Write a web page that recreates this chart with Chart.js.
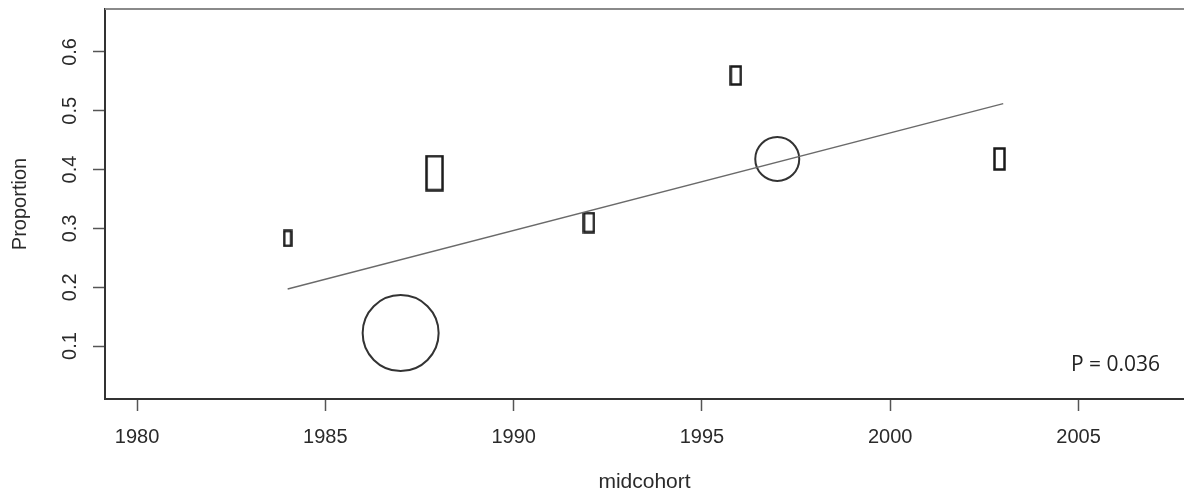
<!DOCTYPE html>
<html>
<head>
<meta charset="utf-8">
<script src="https://cdn.jsdelivr.net/npm/chart.js@4"></script>
<style>
  html, body { margin: 0; padding: 0; background: #fff; }
  #wrap { width: 1184px; height: 495px; }
</style>
</head>
<body>
<div id="wrap"><canvas id="plot"></canvas></div>
<script>
// values
var xTicks = [1980, 1985, 1990, 1995, 2000, 2005];
var yTicks = [0.1, 0.2, 0.3, 0.4, 0.5, 0.6];

var circleX = [1987, 1997];
var circleY = [0.122, 0.418];

var rectX = [1984, 1987.9, 1992, 1995.9, 2002.9];
var rectY = [0.283, 0.394, 0.31, 0.56, 0.418];

var fitX = [1984, 2003];
var fitY = [0.197, 0.512];

var pLabel = "P = 0.036";

// marker styling
var circleRadius = [38, 22];
var rectSize = [[7, 15], [16, 34], [10, 19], [10, 18], [10, 21]];

function boxMarker(w, h) {
  var c = document.createElement("canvas");
  c.width = w + 3;
  c.height = h + 3;
  var g = c.getContext("2d");
  g.strokeStyle = "#1a1a1a";
  g.lineWidth = 2.5;
  g.strokeRect(1.5, 1.5, w, h);
  return c;
}

var textColor = "#2a2a2a";
var axisFont = { family: "'Liberation Sans', Arial, sans-serif", size: 20 };

var framePlugin = {
  id: "frame",
  afterDraw: function (chart) {
    var ctx = chart.ctx;
    var area = chart.chartArea;
    var ys = chart.scales.y;
    ctx.save();
    // top edge of the box
    ctx.strokeStyle = "#8a8a8a";
    ctx.lineWidth = 2;
    ctx.beginPath();
    ctx.moveTo(area.left, area.top);
    ctx.lineTo(area.right, area.top);
    ctx.stroke();
    // rotated y tick labels, R style
    ctx.fillStyle = textColor;
    ctx.font = "20px 'Liberation Sans', Arial, sans-serif";
    ctx.textAlign = "center";
    ctx.textBaseline = "middle";
    yTicks.forEach(function (v) {
      ctx.save();
      ctx.translate(70, ys.getPixelForValue(v));
      ctx.rotate(-Math.PI / 2);
      ctx.fillText(v.toFixed(1), 0, 0);
      ctx.restore();
    });
    // p-value note
    ctx.font = "21px 'Open Sans', sans-serif";
    ctx.textAlign = "left";
    ctx.textBaseline = "alphabetic";
    ctx.fillStyle = "#222";
    ctx.fillText(pLabel, 1071, 371);
    ctx.restore();
  }
};

new Chart(document.getElementById("plot"), {
  type: "scatter",
  data: {
    datasets: [
      {
        type: "line",
        data: fitX.map(function (x, i) { return { x: x, y: fitY[i] }; }),
        borderColor: "#6a6a6a",
        borderWidth: 1.3,
        pointRadius: 0,
        fill: false
      },
      {
        data: circleX.map(function (x, i) { return { x: x, y: circleY[i] }; }),
        pointStyle: "circle",
        pointRadius: circleRadius,
        borderColor: "#333",
        borderWidth: 2,
        backgroundColor: "rgba(0,0,0,0)"
      },
      {
        data: rectX.map(function (x, i) { return { x: x, y: rectY[i] }; }),
        pointStyle: rectSize.map(function (s) { return boxMarker(s[0], s[1]); })
      }
    ]
  },
  options: {
    responsive: true,
    maintainAspectRatio: false,
    animation: false,
    events: [],
    layout: { autoPadding: false, padding: { top: 9, right: 0, bottom: 0, left: 0 } },
    plugins: { legend: { display: false }, tooltip: { enabled: false } },
    scales: {
      x: {
        type: "linear",
        min: 1979.15,
        max: 2007.8,
        afterBuildTicks: function (s) { s.ticks = xTicks.map(function (v) { return { value: v }; }); },
        afterFit: function (s) { s.height = 96; s.paddingLeft = 0; s.paddingRight = 0; },
        border: { color: "#333", width: 2 },
        grid: { drawOnChartArea: false, drawTicks: true, tickLength: 12, color: "#555", tickWidth: 1.5 },
        ticks: { color: textColor, font: axisFont, padding: 14, maxRotation: 0, callback: function (v) { return String(v); } },
        title: { display: true, text: "midcohort", color: textColor, font: { family: axisFont.family, size: 21 }, padding: { top: 0, bottom: 0 } }
      },
      y: {
        type: "linear",
        min: 0.01,
        max: 0.673,
        afterBuildTicks: function (s) { s.ticks = yTicks.map(function (v) { return { value: v }; }); },
        afterFit: function (s) { s.width = 105; s.paddingTop = 0; s.paddingBottom = 0; },
        border: { color: "#333", width: 2 },
        grid: { drawOnChartArea: false, drawTicks: true, tickLength: 12, color: "#555", tickWidth: 1.5 },
        ticks: { display: true, color: "rgba(0,0,0,0)", font: axisFont },
        title: { display: true, text: "Proportion", color: textColor, font: { family: axisFont.family, size: 20 }, padding: { top: 8, bottom: 0 } }
      }
    }
  },
  plugins: [framePlugin]
});
</script>
</body>
</html>
